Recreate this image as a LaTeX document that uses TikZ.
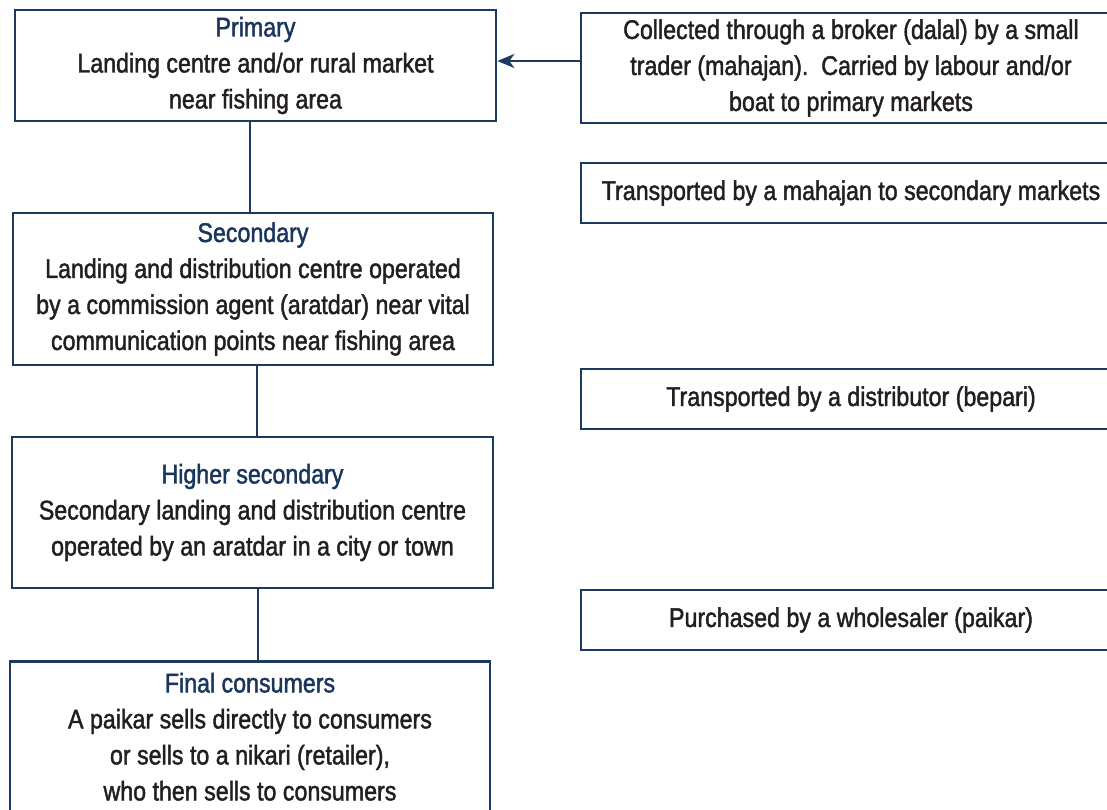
\documentclass[tikz,border=0pt]{standalone}
\usepackage{fontspec}
\setmainfont{Liberation Sans}[FakeStretch=0.86, FakeBold=1.6]
\usetikzlibrary{arrows.meta}
\definecolor{navy}{HTML}{1C3A5E}
\definecolor{titlec}{HTML}{1B365D}
\definecolor{bodyc}{HTML}{231F20}
\newcommand{\ttl}[1]{\textcolor{titlec}{#1}}
\tikzset{
  box/.style={draw=navy, line width=1.35pt, rectangle, inner sep=0pt, align=center,
    text=bodyc, font=\fontsize{13.5}{18}\selectfont},
  link/.style={draw=navy, line width=1.35pt},
  arr/.style={link, -{Stealth[length=8.5pt, width=7pt, inset=2.5pt]}}
}
\begin{document}
\begin{tikzpicture}[x=0.5pt, y=-0.5pt]
\clip (0,0) rectangle (1107,809);
\useasboundingbox (0,0) rectangle (1107,809);
% left column
\node[box, minimum width=240.5pt, minimum height=55.5pt] (prim) at (255.5,65.5)
  {\ttl{Primary}\\Landing centre and/or rural market\\near fishing area};
\node[box, minimum width=240pt, minimum height=76pt] (sec) at (253,289)
  {\ttl{Secondary}\\Landing and distribution centre operated\\by a commission agent (aratdar) near vital\\communication points near fishing area};
\node[box, minimum width=240.5pt, minimum height=75.5pt] (hsec) at (252.5,512.5)
  {\ttl{Higher secondary}\\Secondary landing and distribution centre\\operated by an aratdar in a city or town};
\node[box, minimum width=240pt, minimum height=75.25pt] (fin) at (250,736.75)
  {\ttl{Final consumers}\\A paikar sells directly to consumers\\or sells to a nikari (retailer),\\who then sells to consumers};
% right column
\node[box, minimum width=270pt, minimum height=55pt] (r1) at (851,68)
  {Collected through a broker (dalal) by a small\\trader (mahajan).\ \ Carried by labour and/or\\boat to primary markets};
\node[box, minimum width=270pt, minimum height=30pt] (r2) at (851,193)
  {Transported by a mahajan to secondary markets};
\node[box, minimum width=270pt, minimum height=30pt] (r3) at (851,399)
  {Transported by a distributor (bepari)};
\node[box, minimum width=270pt, minimum height=30pt] (r4) at (851,620)
  {Purchased by a wholesaler (paikar)};
% connector guides
\coordinate (c1) at (250,0);
\coordinate (c2) at (257,0);
\coordinate (c3) at (258,0);
\coordinate (ay) at (0,61);
% connectors
\draw[link] (prim.south -| c1) -- (sec.north -| c1);
\draw[link] (sec.south -| c2) -- (hsec.north -| c2);
\draw[link] (hsec.south -| c3) -- (fin.north -| c3);
\draw[arr] (r1.west |- ay) -- (prim.east |- ay);
\end{tikzpicture}
\end{document}
